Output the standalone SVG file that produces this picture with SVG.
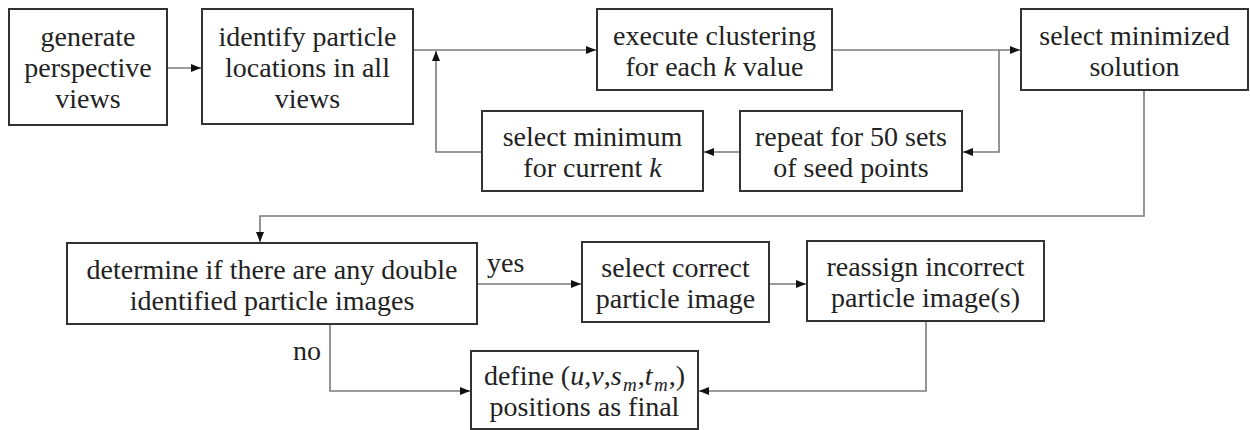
<svg xmlns="http://www.w3.org/2000/svg" width="1250" height="430" viewBox="0 0 1250 430" font-family="'Liberation Serif', 'DejaVu Serif', serif">
<defs>
<style>
.box{fill:#fff;stroke:#333;stroke-width:2}
.t{font-size:28px;fill:#222;text-anchor:middle}
.lbl{font-size:28px;fill:#222}
.c{fill:none;stroke:#7a7a7a;stroke-width:1.6}
.i{font-style:italic}
</style>
<marker id="ah" viewBox="0 0 10 10" refX="10" refY="5" markerWidth="10" markerHeight="10" markerUnits="userSpaceOnUse" orient="auto">
<path d="M0,1 L10,5 L0,9 Z" fill="#111"/>
</marker>
</defs>
<rect width="1250" height="430" fill="#fff"/>
<g id="connectors">
<path class="c" d="M167,68 H201" marker-end="url(#ah)"/>
<path class="c" d="M413,50 H596" marker-end="url(#ah)"/>
<path class="c" d="M832,50 H1020" marker-end="url(#ah)"/>
<path class="c" d="M999,50 V152 H963" marker-end="url(#ah)"/>
<path class="c" d="M740,152 H704" marker-end="url(#ah)"/>
<path class="c" d="M482,152 H436 V51" marker-end="url(#ah)"/>
<path class="c" d="M1144,90 V216 H260 V242" marker-end="url(#ah)"/>
<path class="c" d="M477,284 H581" marker-end="url(#ah)"/>
<path class="c" d="M769,284 H806" marker-end="url(#ah)"/>
<path class="c" d="M926,321 V391 H699" marker-end="url(#ah)"/>
<path class="c" d="M330,324 V391 H470" marker-end="url(#ah)"/>
<text class="lbl" x="487" y="272">yes</text>
<text class="lbl" x="293" y="360">no</text>
</g>
<g id="n1">
<rect class="box" x="9" y="9" width="158" height="116"/>
<text class="t" x="88" y="46">generate</text>
<text class="t" x="88" y="77">perspective</text>
<text class="t" x="88" y="108">views</text>
</g>
<g id="n2">
<rect class="box" x="202" y="9" width="211" height="115"/>
<text class="t" x="307.5" y="46">identify particle</text>
<text class="t" x="307.5" y="77">locations in all</text>
<text class="t" x="307.5" y="108">views</text>
</g>
<g id="n3">
<rect class="box" x="597" y="9" width="235" height="81"/>
<text class="t" x="714.5" y="45">execute clustering</text>
<text class="t" x="714.5" y="76">for each <tspan class="i">k</tspan> value</text>
</g>
<g id="n4">
<rect class="box" x="1021" y="9" width="227" height="81"/>
<text class="t" x="1134.5" y="45">select minimized</text>
<text class="t" x="1134.5" y="76">solution</text>
</g>
<g id="n5">
<rect class="box" x="482" y="111" width="221" height="80"/>
<text class="t" x="592.5" y="146">select minimum</text>
<text class="t" x="592.5" y="177">for current <tspan class="i">k</tspan></text>
</g>
<g id="n6">
<rect class="box" x="740" y="111" width="222" height="80"/>
<text class="t" x="851" y="146">repeat for 50 sets</text>
<text class="t" x="851" y="177">of seed points</text>
</g>
<g id="n7">
<rect class="box" x="67" y="243" width="410" height="81"/>
<text class="t" x="272" y="279">determine if there are any double</text>
<text class="t" x="272" y="310">identified particle images</text>
</g>
<g id="n8">
<rect class="box" x="582" y="242" width="187" height="80"/>
<text class="t" x="675.5" y="277">select correct</text>
<text class="t" x="675.5" y="308">particle image</text>
</g>
<g id="n9">
<rect class="box" x="807" y="241" width="237" height="80"/>
<text class="t" x="925.5" y="276">reassign incorrect</text>
<text class="t" x="925.5" y="307">particle image(s)</text>
</g>
<g id="n10">
<rect class="box" x="471" y="351" width="227" height="78"/>
<text class="t" x="584.5" y="385">define (<tspan class="i">u</tspan>,<tspan class="i">v</tspan>,<tspan class="i">s</tspan><tspan class="i" font-size="19" dx="1.5" dy="6">m</tspan><tspan dx="1" dy="-6">,</tspan><tspan class="i">t</tspan><tspan class="i" font-size="19" dx="1.5" dy="6">m</tspan><tspan dx="1" dy="-6">,)</tspan></text>
<text class="t" x="584.5" y="416">positions as final</text>
</g>
</svg>
